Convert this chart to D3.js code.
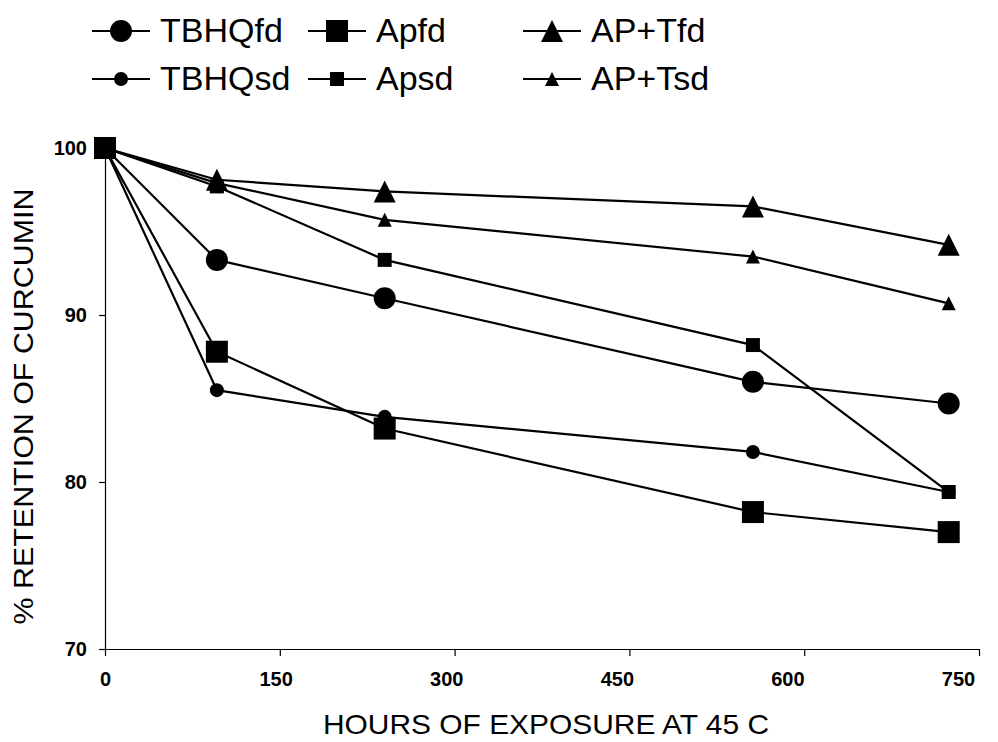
<!DOCTYPE html>
<html><head><meta charset="utf-8">
<script src="https://cdn.jsdelivr.net/npm/d3@7"></script>
<style>body{margin:0;background:#fff}</style>
</head><body><svg id="c" width="998" height="742"></svg>
<script>
const hours = [0, 96, 240, 556, 724];
const tbhqFd = [100, 93.3, 91.0, 86.0, 84.7];
const tbhqSd = [100, 85.5, 83.9, 81.8, 79.4];
const apFd  = [100, 87.8, 83.2, 78.2, 77.0];
const apSd  = [100, 97.7, 93.3, 88.2, 79.4];
const aptFd = [100, 98.1, 97.4, 96.5, 94.2];
const aptSd = [100, 97.9, 95.7, 93.5, 90.7];
const seriesNames = ["TBHQfd", "TBHQsd", "Apfd", "Apsd", "AP+Tfd", "AP+Tsd"];
const xTicks = [0, 150, 300, 450, 600, 750];
const yTicks = [70, 80, 90, 100];
const xTitle = "HOURS OF EXPOSURE AT 45 C";
const yTitle = "% RETENTION OF CURCUMIN";

const seriesValues = [tbhqFd, tbhqSd, apFd, apSd, aptFd, aptSd];
const markerKind = ["circle", "circle", "square", "square", "triangle", "triangle"];
const markerSize = [22, 14, 22, 14, 22, 14];
const legendCol = [0, 0, 1, 1, 2, 2];
const legendRow = [0, 1, 0, 1, 0, 1];

const svg = d3.select("#c");
const x = d3.scaleLinear().domain([0, 750]).range([105, 979]);
const y = d3.scaleLinear().domain([70, 100]).range([649, 148]);

function markerPath(kind, s) {
  const h = s / 2;
  if (kind === "circle") return d3.symbol(d3.symbolCircle, Math.PI * h * h)();
  if (kind === "square") return `M${-h},${-h}H${h}V${h}H${-h}Z`;
  return `M0,${-h}L${h},${h}L${-h},${h}Z`;
}

// axes
const yAxis = svg.append("g").attr("transform", `translate(${x(0)},0)`)
  .call(d3.axisLeft(y).tickValues(yTicks).tickSize(6).tickSizeOuter(0).tickPadding(12).tickFormat(d3.format("d")));
const xAxis = svg.append("g").attr("transform", `translate(0,${y(70)})`)
  .call(d3.axisBottom(x).tickValues(xTicks).tickSize(7).tickSizeOuter(0).tickPadding(16).tickFormat(d3.format("d")));
[yAxis, xAxis].forEach(g => {
  g.select(".domain").attr("stroke", "#000").attr("stroke-width", 1.2);
  g.selectAll(".tick line").attr("stroke", "#000").attr("stroke-width", 1.2);
  g.selectAll("text").attr("font-family", "Liberation Sans, Arial, sans-serif")
    .attr("font-weight", "bold").attr("font-size", 20).attr("fill", "#000");
});
xAxis.selectAll(".tick text").attr("x", d => -(x(d) - x(0)) * 0.024);

// lines & markers
const line = d3.line().x((d, i) => x(hours[i])).y(d => y(d));
const plot = svg.append("g");
seriesValues.forEach((vals, k) => {
  plot.append("path").attr("d", line(vals)).attr("fill", "none")
    .attr("stroke", "#000").attr("stroke-width", 2.2).attr("stroke-linejoin", "miter");
});
seriesValues.forEach((vals, k) => {
  plot.selectAll(null).data(vals).enter().append("path")
    .attr("d", markerPath(markerKind[k], markerSize[k]))
    .attr("transform", (d, i) => `translate(${x(hours[i])},${y(d)})`)
    .attr("fill", "#000");
});

// titles
svg.append("text").attr("x", 546).attr("y", 734).attr("text-anchor", "middle")
  .attr("font-family", "Liberation Sans, Arial, sans-serif").attr("font-size", 28)
  .attr("textLength", 446).attr("lengthAdjust", "spacingAndGlyphs")
  .attr("fill", "#000").text(xTitle);
svg.append("text").attr("transform", `translate(33,${(y(70) + y(100)) / 2 + 8}) rotate(-90)`)
  .attr("text-anchor", "middle")
  .attr("font-family", "Liberation Sans, Arial, sans-serif").attr("font-size", 28)
  .attr("textLength", 436).attr("lengthAdjust", "spacingAndGlyphs")
  .attr("fill", "#000").text(yTitle);

// legend
const colX = [92, 308, 523];
const rowY = [31, 79];
const leg = svg.append("g");
seriesNames.forEach((name, k) => {
  const lx = colX[legendCol[k]], ly = rowY[legendRow[k]];
  const g = leg.append("g");
  g.append("line").attr("x1", lx).attr("x2", lx + 58).attr("y1", ly).attr("y2", ly)
    .attr("stroke", "#000").attr("stroke-width", 2.2);
  g.append("path").attr("d", markerPath(markerKind[k], markerSize[k]))
    .attr("transform", `translate(${lx + 29},${ly})`).attr("fill", "#000");
  g.append("text").attr("x", lx + 68).attr("y", ly + 11)
    .attr("font-family", "Liberation Sans, Arial, sans-serif").attr("font-size", 34)
    .attr("fill", "#000").text(name);
});
</script>
</body></html>
